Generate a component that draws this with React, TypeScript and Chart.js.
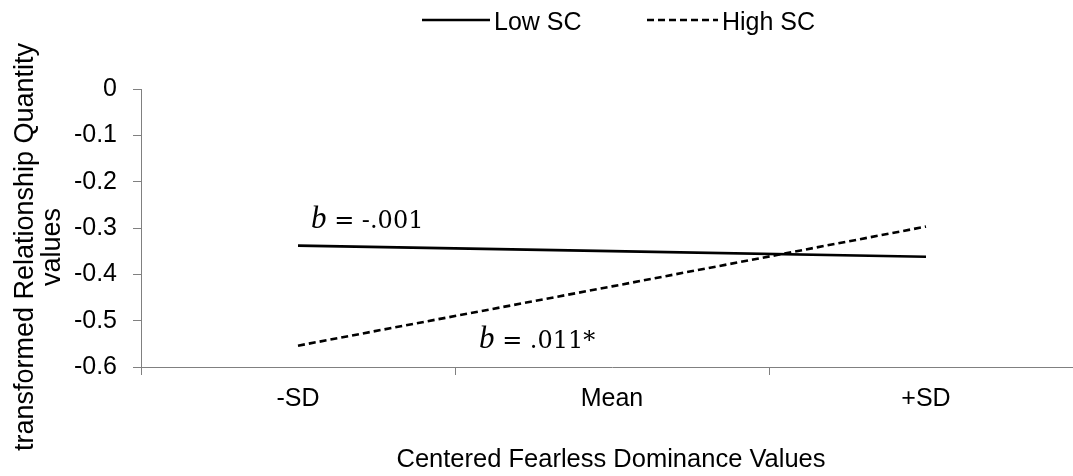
import { useEffect, useRef } from 'react';
import { Chart, registerables } from 'chart.js';

Chart.register(...registerables);

// Simple-slopes data: predicted values at -1 SD, mean and +1 SD of the predictor
const categories = ['-SD', 'Mean', '+SD'];
const lowSC = [-0.338, -0.35, -0.362];
const highSC = [-0.554, -0.426, -0.297];
const seriesNames = ['Low SC', 'High SC'];
const slopeValues = ['-.001', '.011*'];
const yMin = -0.6;
const yMax = 0;
const yStep = 0.1;
const xTitle = 'Centered Fearless Dominance Values';
const yTitleLines = ['transformed Relationship Quantity', 'values'];

const SANS = "'Liberation Sans', Arial, Helvetica, sans-serif";
const SERIF = "'DejaVu Serif', 'Liberation Serif', serif";
const TIMES = "'Liberation Serif', 'Times New Roman', serif";
const AXIS_GREY = '#808080';
const DASH = [7, 4];

const decorPlugin = {
  id: 'decor',
  afterDraw(chart: any) {
    const { ctx } = chart;
    const xs = chart.scales.x;
    const ys = chart.scales.y;
    ctx.save();

    // Legend across the top
    const legendItems = [
      { name: seriesNames[0], x0: 422, x1: 490, dash: [] as number[] },
      { name: seriesNames[1], x0: 647, x1: 718, dash: DASH },
    ];
    legendItems.forEach((it) => {
      ctx.strokeStyle = '#000';
      ctx.lineWidth = 2.5;
      ctx.setLineDash(it.dash);
      ctx.beginPath();
      ctx.moveTo(it.x0, 20);
      ctx.lineTo(it.x1, 20);
      ctx.stroke();
      ctx.setLineDash([]);
      ctx.fillStyle = '#000';
      ctx.font = `25px ${SANS}`;
      ctx.textAlign = 'left';
      ctx.textBaseline = 'middle';
      ctx.fillText(it.name, it.x1 + 4, 23);
    });

    // Axis titles
    const area = chart.chartArea;
    ctx.fillStyle = '#000';
    ctx.font = `25.5px ${SANS}`;
    ctx.textAlign = 'center';
    ctx.textBaseline = 'alphabetic';
    ctx.fillText(xTitle, (area.left + 1073) / 2 + 4, 467);

    ctx.font = `27px ${SANS}`;
    const yc = 247;
    const baselines = [33, 60];
    yTitleLines.forEach((line, i) => {
      ctx.save();
      ctx.translate(baselines[i], yc);
      ctx.rotate(-Math.PI / 2);
      ctx.textAlign = 'center';
      ctx.textBaseline = 'alphabetic';
      ctx.fillText(line, 0, 0);
      ctx.restore();
    });

    // Slope annotations
    const drawSlope = (value: string, left: number, baseline: number) => {
      ctx.textAlign = 'left';
      ctx.textBaseline = 'alphabetic';
      ctx.font = `italic 31px ${TIMES}`;
      ctx.fillText('b', left, baseline);
      const bw = ctx.measureText('b').width;
      ctx.font = `24px ${SERIF}`;
      ctx.fillText(` = ${value}`, left + bw, baseline);
    };
    drawSlope(
      slopeValues[0],
      xs.getPixelForValue(0) + 13,
      ys.getPixelForValue(lowSC[0]) - 18
    );
    drawSlope(
      slopeValues[1],
      xs.getPixelForValue(1) - 133,
      ys.getPixelForValue(highSC[0]) + 2
    );

    ctx.restore();
  },
};

export default function App() {
  const canvasRef = useRef<HTMLCanvasElement | null>(null);

  useEffect(() => {
    const canvas = canvasRef.current;
    if (!canvas) return;
    const chart = new Chart(canvas, {
      type: 'line',
      data: {
        labels: categories,
        datasets: [
          {
            label: seriesNames[0],
            data: lowSC,
            borderColor: '#000',
            backgroundColor: '#000',
            borderWidth: 2.6,
            pointRadius: 0,
            tension: 0,
          },
          {
            label: seriesNames[1],
            data: highSC,
            borderColor: '#000',
            backgroundColor: '#000',
            borderWidth: 2.6,
            borderDash: DASH,
            pointRadius: 0,
            tension: 0,
          },
        ],
      },
      options: {
        responsive: false,
        animation: false,
        devicePixelRatio: 1,
        layout: { padding: { top: 89, right: 7, left: 0, bottom: 0 } },
        plugins: {
          legend: { display: false },
          title: { display: false },
          tooltip: { enabled: false },
        },
        scales: {
          x: {
            type: 'category',
            offset: true,
            grid: {
              offset: true,
              drawOnChartArea: false,
              drawTicks: true,
              tickLength: 8,
              color: AXIS_GREY,
              lineWidth: 1,
            },
            border: { display: true, color: AXIS_GREY, width: 1 },
            ticks: {
              color: '#000',
              font: { family: SANS, size: 25 },
              padding: 9,
              maxRotation: 0,
            },
            afterFit: (scale: any) => {
              scale.height = 109;
            },
          },
          y: {
            min: yMin,
            max: yMax,
            grid: {
              drawOnChartArea: false,
              drawTicks: true,
              tickLength: 8,
              color: AXIS_GREY,
              lineWidth: 1,
            },
            border: { display: true, color: AXIS_GREY, width: 1 },
            ticks: {
              stepSize: yStep,
              color: '#000',
              font: { family: SANS, size: 25 },
              padding: 16,
              callback: (v: any) => {
                const n = Number(v);
                return Math.abs(n) < 1e-9 ? '0' : n.toFixed(1);
              },
            },
            afterFit: (scale: any) => {
              scale.width = 141;
            },
          },
        },
      },
      plugins: [decorPlugin],
    });
    return () => chart.destroy();
  }, []);

  return (
    <div
      style={{
        position: 'absolute',
        left: 0,
        top: 0,
        width: 1073,
        height: 476,
        overflow: 'hidden',
        background: '#fff',
      }}
    >
      <canvas ref={canvasRef} width={1090} height={476} style={{ display: 'block' }} />
    </div>
  );
}
